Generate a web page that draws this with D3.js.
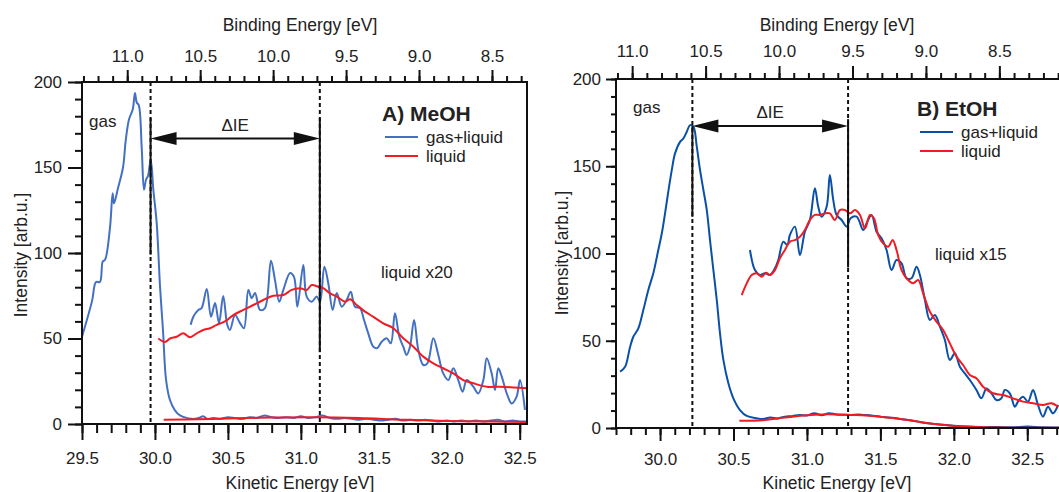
<!DOCTYPE html>
<html>
<head>
<meta charset="utf-8">
<script src="https://cdn.jsdelivr.net/npm/d3@7"></script>
<style>
  body { margin: 0; background: #fff; }
  text { font-family: "Liberation Sans", Arial, sans-serif; fill: #222; }
</style>
</head>
<body>
<svg id="chart" width="1059" height="492"></svg>
<script>
// photon energy used for the binding energy axis (BE = hv - KE)
var photonEnergy = 40.81;

// ---- A) MeOH : [kinetic energy, intensity] ----
var meohGasLiquid = [
  [29.500,51],[29.569,72],[29.596,83],[29.623,83],[29.642,95],[29.658,96],[29.692,115],
  [29.710,135],[29.719,129],[29.747,138],[29.781,150],[29.800,166],[29.822,178],[29.848,184],
  [29.863,193.5],[29.875,188],[29.889,186.5],[29.909,162],[29.925,137],[29.939,143],[29.952,145],
  [29.971,154.5],[29.989,137],[30.012,117.5],[30.035,80],[30.055,55],[30.076,26],[30.103,14],
  [30.137,8],[30.172,5],[30.20,4],[30.25,3],[30.30,3.5],[30.33,4.5],[30.36,3],[30.40,3.5],
  [30.45,3],[30.50,4],[30.55,3.5],[30.60,3],[30.65,4],[30.70,3.5],[30.75,5],[30.80,4],
  [30.85,3.5],[30.90,4],[30.95,3.5],[31.00,4.5],[31.05,3.5],[31.10,4],[31.15,5],[31.20,3.5],
  [31.25,3],[31.30,3.5],[31.35,3],[31.40,2.5],[31.45,3],[31.50,2.5],[31.55,2],[31.60,2.5],
  [31.65,3],[31.70,2],[31.75,2.5],[31.80,2],[31.85,2.5],[31.90,2],[31.95,1.5],[32.00,2],
  [32.05,1.5],[32.10,2],[32.15,1.5],[32.20,2],[32.25,1.5],[32.30,2],[32.35,2.5],[32.40,1.5],
  [32.45,2],[32.50,1.5],[32.55,1.5]
];
var meohLiquid = [
  [30.06,2.5],[30.30,2.8],[30.50,3.2],[30.80,3.8],[31.10,4],[31.40,3.5],[31.70,2.5],
  [32.00,1.8],[32.30,1.4],[32.55,1.2]
];
var meohGasLiquidX20 = [
  [30.245,58],[30.263,62.7],[30.297,66.7],[30.320,67.8],[30.355,79],[30.384,62.7],[30.412,70.7],
  [30.439,59],[30.468,74.9],[30.496,57.9],[30.514,55],[30.549,63.7],[30.583,59],[30.610,56],
  [30.640,78.4],[30.663,73.6],[30.686,76.6],[30.720,66.7],[30.754,67.8],[30.795,95.5],[30.823,84],
  [30.852,71.5],[30.880,78.4],[30.926,88.3],[30.953,86],[30.976,68.6],[31.017,93],[31.040,74.5],
  [31.074,71.5],[31.109,74.5],[31.131,71.5],[31.161,92],[31.188,82.3],[31.218,66.7],[31.246,76.6],
  [31.280,68.6],[31.314,72.5],[31.342,77.4],[31.371,68.6],[31.405,67.8],[31.433,60.8],[31.462,53],
  [31.497,45.2],[31.524,44.4],[31.554,48.1],[31.588,50.1],[31.616,47.2],[31.645,64.7],[31.675,51],
  [31.702,45.2],[31.725,40.4],[31.748,45.2],[31.776,60.8],[31.805,43.3],[31.839,34.5],[31.867,35.5],
  [31.908,50.1],[31.942,40.4],[31.976,29.6],[32.011,25.7],[32.045,32.6],[32.079,25.7],[32.109,18.9],
  [32.137,25.7],[32.182,21.8],[32.216,17.9],[32.251,25.7],[32.274,38.4],[32.308,29.6],[32.331,19.9],
  [32.353,32.6],[32.377,27.7],[32.411,17.9],[32.445,12],[32.479,16],[32.502,25.7],[32.536,8.2]
];
var meohLiquidX20 = [
  [30.023,50],[30.069,48],[30.103,50],[30.149,51],[30.194,53],[30.240,50.7],[30.286,53],
  [30.331,55],[30.377,56],[30.423,58],[30.480,60],[30.537,63.7],[30.606,66.7],[30.674,69.6],
  [30.743,72.5],[30.811,75],[30.880,75.4],[30.937,78.4],[30.994,79.4],[31.040,78.4],[31.074,81.3],
  [31.120,80.3],[31.154,79.4],[31.200,76.4],[31.246,74.5],[31.303,71.5],[31.337,72.9],[31.383,69.6],
  [31.440,65.7],[31.497,62.7],[31.565,58.9],[31.634,56],[31.702,50.1],[31.771,45.2],[31.839,39.4],
  [31.908,35.5],[31.976,32.6],[32.045,29.6],[32.113,25.7],[32.182,23.8],[32.274,21.8],[32.365,21.8],
  [32.456,21.4],[32.559,20.8]
];

// ---- B) EtOH ----
var etohGasLiquid = [
  [29.728,32.3],[29.762,35.1],[29.796,46.6],[29.818,52.3],[29.852,57.1],[29.886,67.6],[29.920,79.1],
  [29.954,88.7],[29.988,102],[30.012,111.6],[30.034,123],[30.056,135.4],[30.080,147.9],[30.102,157.4],
  [30.136,164],[30.159,166],[30.182,169.8],[30.204,173.6],[30.227,172.7],[30.250,161.2],[30.272,147.9],
  [30.295,136.4],[30.318,124.9],[30.340,107.7],[30.363,90.5],[30.386,73.4],[30.408,54.3],[30.431,39],
  [30.465,25.6],[30.499,17],[30.544,10.3],[30.590,6.9],[30.658,5.6],[30.70,5.2],[30.75,6],[30.80,5.5],
  [30.85,6.5],[30.90,6.8],[30.95,7.5],[31.00,7.2],[31.05,8.5],[31.10,7.3],[31.15,8.5],[31.20,7.8],
  [31.25,7.6],[31.30,7.5],[31.35,7.7],[31.40,7.4],[31.45,7],[31.50,6.5],[31.55,6],[31.60,5.8],
  [31.65,5],[31.70,4.5],[31.75,3.8],[31.80,3],[31.90,2],[32.00,1.3],[32.10,0.8],[32.20,0.5],
  [32.30,0.6],[32.40,0.4],[32.50,0.8],[32.60,0.4],[32.75,0.3]
];
var etohLiquid = [
  [30.54,4.2],[30.70,4.5],[30.80,5.5],[30.90,6.5],[31.00,7.3],[31.10,7.8],[31.20,7.8],[31.30,7.5],
  [31.40,7.2],[31.50,6.5],[31.60,5.5],[31.70,4.5],[31.80,3],[31.90,2],[32.00,1.2],[32.10,0.7],
  [32.20,0.4],[32.40,0.2],[32.75,0.1]
];
var etohGasLiquidX15 = [
  [30.612,102],[30.646,90.5],[30.680,87.7],[30.714,88.7],[30.748,87.7],[30.782,91.5],[30.805,96.3],
  [30.839,106.8],[30.866,104.9],[30.884,110.6],[30.918,115.4],[30.952,99.1],[30.986,112.5],[31.020,119.2],
  [31.054,137.4],[31.077,126.8],[31.100,121.1],[31.134,126.8],[31.156,145],[31.179,130.7],[31.202,122.1],
  [31.236,119.2],[31.270,115.4],[31.297,120.2],[31.338,121.1],[31.383,113.5],[31.406,117.3],[31.440,122.1],
  [31.474,112.5],[31.508,108.7],[31.542,102],[31.576,90.5],[31.610,96.3],[31.644,94.4],[31.678,85.8],
  [31.712,85.8],[31.746,92.4],[31.769,87.7],[31.803,73.4],[31.837,61.9],[31.871,64.8],[31.905,58.1],
  [31.939,50.4],[31.973,39],[32.007,42.8],[32.041,35.1],[32.075,31.3],[32.109,27.5],[32.154,21.8],
  [32.188,17],[32.222,22.7],[32.256,19.9],[32.290,16],[32.324,17],[32.347,21.8],[32.381,19.9],
  [32.415,12.2],[32.437,15.1],[32.471,17.9],[32.505,15.1],[32.539,21.8],[32.573,13.2],[32.607,6.5],
  [32.641,12.2],[32.675,8.4],[32.710,13.2]
];
var etohLiquidX15 = [
  [30.556,76.2],[30.590,82.9],[30.624,87.7],[30.658,88.7],[30.692,86.7],[30.721,89],[30.748,87.7],
  [30.782,90.5],[30.816,97.3],[30.850,102],[30.884,106.8],[30.918,107.7],[30.952,109.6],[30.986,113.5],
  [31.020,119.2],[31.054,122.1],[31.088,122.1],[31.122,123],[31.156,123],[31.190,119.2],[31.224,124.9],
  [31.259,124.9],[31.293,123],[31.327,124.9],[31.361,122.1],[31.395,114.4],[31.429,122.1],[31.456,120.2],
  [31.485,110.6],[31.519,105.8],[31.553,103.9],[31.583,107.7],[31.610,102],[31.644,90.5],[31.678,85.8],
  [31.723,82.9],[31.757,84.8],[31.791,77.2],[31.837,66.6],[31.882,60.9],[31.927,56.2],[31.973,48.5],
  [32.018,40.9],[32.063,36.1],[32.109,30.4],[32.154,28.5],[32.199,23.7],[32.267,19.9],[32.335,18.9],
  [32.403,17],[32.471,15.1],[32.539,14.2],[32.607,13.2],[32.664,14.2],[32.710,12.2]
];

// ionisation energy markers: [KE, solid top, solid bottom], arrow height
var meohMarkers = [[29.97, 179, 99], [31.13, 179, 42]];
var etohMarkers = [[30.22, 173, 121], [31.28, 177, 92]];
var meohArrowY = 167;
var etohArrowY = 173;

var yTicks = [0, 50, 100, 150, 200];
var beLabels = [11.0, 10.5, 10.0, 9.5, 9.0, 8.5];

var svg = d3.select('#chart');

function drawPanel(p) {
  var x = d3.scaleLinear().domain(p.keDomain).range([p.left, p.right]);
  var be = d3.scaleLinear()
    .domain([photonEnergy - p.keDomain[0], photonEnergy - p.keDomain[1]])
    .range([p.left, p.right]);
  var y = d3.scaleLinear().domain([0, 200]).range([p.bottom, p.top]);

  var g = svg.append('g');
  var clipId = 'clip' + p.id;
  g.append('clipPath').attr('id', clipId)
    .append('rect')
    .attr('x', p.left).attr('y', p.top)
    .attr('width', p.right - p.left).attr('height', p.bottom - p.top);

  var line = d3.line()
    .x(function(d) { return x(d[0]); })
    .y(function(d) { return y(d[1]); })
    .curve(d3.curveCatmullRom.alpha(0.5));

  var plot = g.append('g').attr('clip-path', 'url(#' + clipId + ')');
  p.series.forEach(function(s) {
    plot.append('path')
      .attr('d', line(s.data))
      .attr('fill', 'none')
      .attr('stroke', s.color)
      .attr('stroke-width', 2)
      .attr('stroke-linejoin', 'round');
  });

  // dashed markers + solid parts
  p.markers.forEach(function(m) {
    plot.append('line')
      .attr('x1', x(m[0])).attr('x2', x(m[0]))
      .attr('y1', p.top).attr('y2', p.bottom)
      .attr('stroke', '#111').attr('stroke-width', 2)
      .attr('stroke-dasharray', '4,3');
    plot.append('line')
      .attr('x1', x(m[0])).attr('x2', x(m[0]))
      .attr('y1', y(m[1])).attr('y2', y(m[2]))
      .attr('stroke', '#111').attr('stroke-width', 2);
  });

  // double arrow for delta IE
  var ax1 = x(p.markers[0][0]), ax2 = x(p.markers[1][0]), ay = y(p.arrowY);
  var hl = 26, hw = 6.5;
  plot.append('line')
    .attr('x1', ax1 + hl - 2).attr('x2', ax2 - hl + 2)
    .attr('y1', ay).attr('y2', ay)
    .attr('stroke', '#111').attr('stroke-width', 2);
  plot.append('path')
    .attr('d', 'M' + ax1 + ',' + ay + 'L' + (ax1 + hl) + ',' + (ay - hw) + 'L' + (ax1 + hl) + ',' + (ay + hw) + 'Z')
    .attr('fill', '#111');
  plot.append('path')
    .attr('d', 'M' + ax2 + ',' + ay + 'L' + (ax2 - hl) + ',' + (ay - hw) + 'L' + (ax2 - hl) + ',' + (ay + hw) + 'Z')
    .attr('fill', '#111');
  g.append('text')
    .attr('x', (ax1 + ax2) / 2).attr('y', ay - p.dieOffset)
    .attr('text-anchor', 'middle').style('font-size', '17px')
    .text('\u0394IE');

  // axes
  var keMajor = d3.range(Math.ceil(p.keDomain[0] * 2), Math.floor(p.keDomain[1] * 2) + 1).map(function(d) { return d / 2; });
  var keMinor = d3.range(Math.ceil(p.keDomain[0] * 10 - 1e-6), Math.floor(p.keDomain[1] * 10 + 1e-6) + 1).map(function(d) { return d / 10; });
  var beMinor = d3.range(Math.ceil((photonEnergy - p.keDomain[1]) * 10), Math.floor((photonEnergy - p.keDomain[0]) * 10) + 1).map(function(d) { return d / 10; });
  var yMinor = d3.range(0, 201, 10);

  function styleAxis(sel) {
    sel.select('.domain').remove();
    sel.selectAll('line').attr('stroke', '#111').attr('stroke-width', 2);
    sel.selectAll('text').style('font-size', '17px').attr('fill', '#222')
      .style('font-family', '"Liberation Sans", Arial, sans-serif');
  }

  g.append('g').attr('transform', 'translate(0,' + p.bottom + ')')
    .call(d3.axisBottom(x).tickValues(keMinor).tickSize(p.bTick[1]).tickFormat(''))
    .call(styleAxis);
  g.append('g').attr('transform', 'translate(0,' + p.bottom + ')')
    .call(d3.axisBottom(x).tickValues(keMajor).tickSize(p.bTick[0]).tickPadding(p.bTick[2]).tickFormat(d3.format('.1f')))
    .call(styleAxis);

  g.append('g').attr('transform', 'translate(0,' + p.top + ')')
    .call(d3.axisTop(be).tickValues(beMinor).tickSize(p.tTick[1]).tickFormat(''))
    .call(styleAxis);
  g.append('g').attr('transform', 'translate(0,' + p.top + ')')
    .call(d3.axisTop(be).tickValues(beLabels).tickSize(p.tTick[0]).tickPadding(p.tTick[2]).tickFormat(d3.format('.1f')))
    .call(styleAxis);

  g.append('g').attr('transform', 'translate(' + p.left + ',0)')
    .call(d3.axisLeft(y).tickValues(yMinor).tickSize(p.lTick[1]).tickFormat(''))
    .call(styleAxis);
  g.append('g').attr('transform', 'translate(' + p.left + ',0)')
    .call(d3.axisLeft(y).tickValues(yTicks).tickSize(p.lTick[0]).tickPadding(p.lTick[2]))
    .call(styleAxis);

  // frame
  g.append('rect')
    .attr('x', p.left).attr('y', p.top)
    .attr('width', p.right - p.left).attr('height', p.bottom - p.top)
    .attr('fill', 'none').attr('stroke', '#111').attr('stroke-width', 2);

  // axis titles
  g.append('text').attr('x', p.titleX).attr('y', 31)
    .attr('text-anchor', 'middle').style('font-size', '17.5px').text('Binding Energy [eV]');
  g.append('text').attr('x', p.titleX).attr('y', 489)
    .attr('text-anchor', 'middle').style('font-size', '17.5px').text('Kinetic Energy [eV]');
  g.append('text')
    .attr('transform', 'translate(' + p.yTitleX + ',' + p.yTitleY + ') rotate(-90)')
    .attr('text-anchor', 'middle').style('font-size', '17.5px').text('Intensity [arb.u.]');

  // annotations
  g.append('text').attr('x', p.gasPos[0]).attr('y', p.gasPos[1])
    .style('font-size', '17px').text('gas');
  g.append('text').attr('x', p.scalePos[0]).attr('y', p.scalePos[1])
    .style('font-size', '17px').text(p.scaleLabel);

  // legend
  var lg = g.append('g').attr('transform', 'translate(' + p.legendPos[0] + ',' + p.legendPos[1] + ')');
  lg.append('text').attr('x', -3).attr('y', 0)
    .style('font-size', '21px').style('font-weight', 'bold').text(p.title);
  [['gas+liquid', p.series[0].color], ['liquid', p.series[1].color]].forEach(function(item, i) {
    var ly = 16 + i * 19;
    lg.append('line').attr('x1', 0).attr('x2', 33).attr('y1', ly).attr('y2', ly)
      .attr('stroke', item[1]).attr('stroke-width', 2);
    lg.append('text').attr('x', 41).attr('y', ly + 6)
      .style('font-size', '17px').text(item[0]);
  });
}

var meohBlue = '#4470c4', etohBlue = '#0a50a8', red = '#f01c24';

drawPanel({
  id: 'A', left: 82, right: 527, top: 82, bottom: 424,
  keDomain: [29.5, 32.55],
  series: [
    { data: meohGasLiquid, color: meohBlue },
    { data: meohLiquid, color: red },
    { data: meohGasLiquidX20, color: meohBlue },
    { data: meohLiquidX20, color: red }
  ],
  markers: meohMarkers, arrowY: meohArrowY, dieOffset: 7,
  bTick: [16, 9, 12], tTick: [12, 6, 8], lTick: [14, 7, 6],
  titleX: 300, yTitleX: 27, yTitleY: 255,
  gasPos: [89, 127], scalePos: [381, 278], scaleLabel: 'liquid x20',
  legendPos: [385, 121], title: 'A) MeOH'
});

drawPanel({
  id: 'B', left: 616, right: 1064, top: 79, bottom: 428,
  keDomain: [29.7, 32.75],
  series: [
    { data: etohGasLiquid, color: etohBlue },
    { data: etohLiquid, color: red },
    { data: etohGasLiquidX15, color: etohBlue },
    { data: etohLiquidX15, color: red }
  ],
  markers: etohMarkers, arrowY: etohArrowY, dieOffset: 8,
  bTick: [13, 7, 12], tTick: [13, 6, 9], lTick: [10, 5, 5],
  titleX: 837, yTitleX: 568, yTitleY: 253,
  gasPos: [633, 113], scalePos: [935, 260], scaleLabel: 'liquid x15',
  legendPos: [920, 116], title: 'B) EtOH'
});
</script>
</body>
</html>
